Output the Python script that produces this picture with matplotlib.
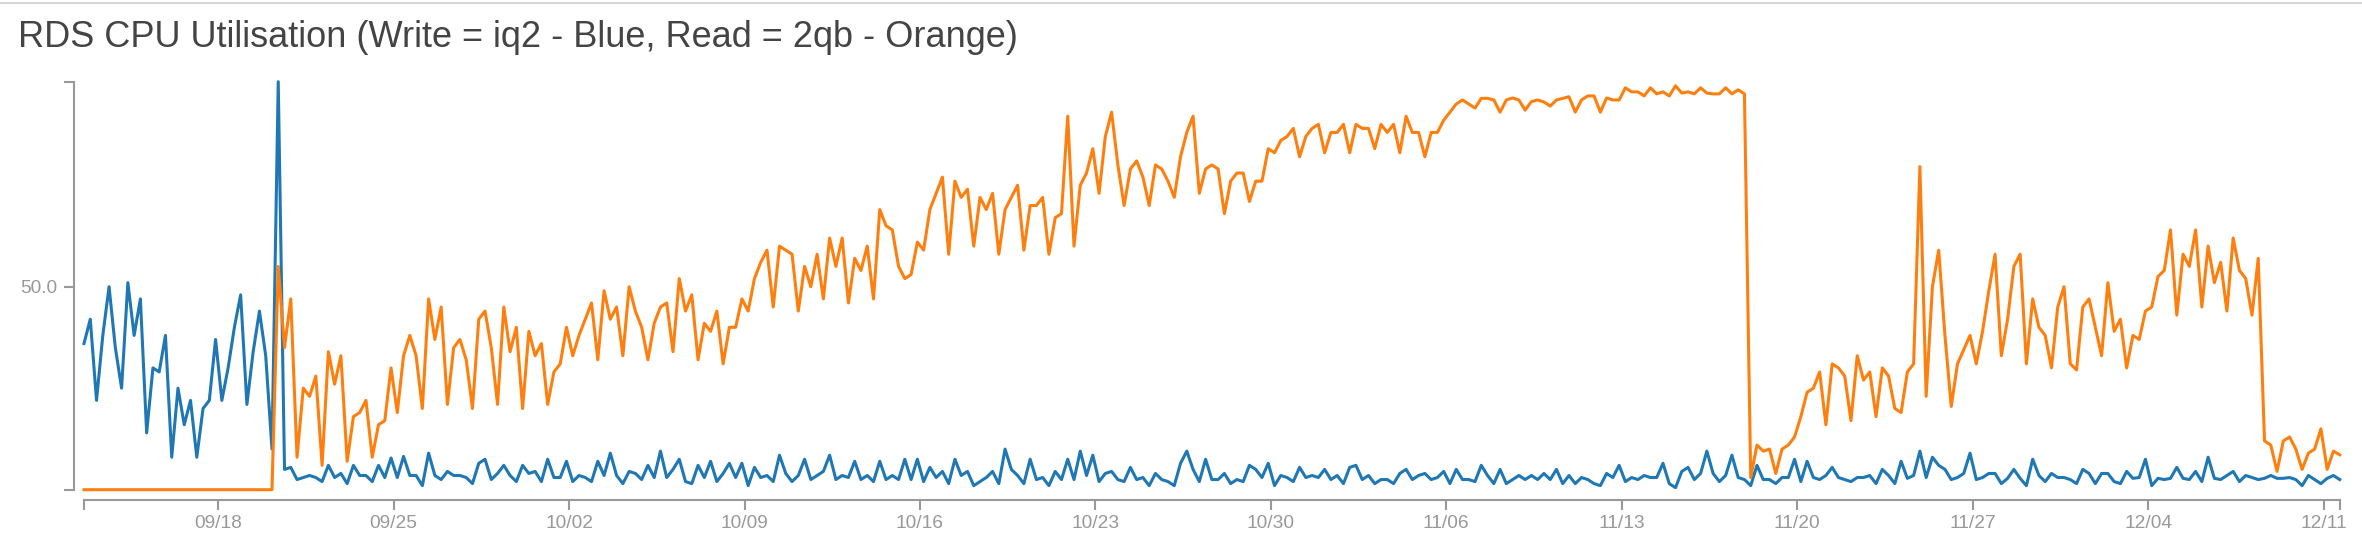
import matplotlib
matplotlib.use('Agg')
import matplotlib.pyplot as plt
from matplotlib.lines import Line2D
import pandas as pd

# samples every 6 hours from the first data point
start = '2016-09-12 15:30'
step = '6h'

write_cpu = [
    36, 42, 22, 38, 50, 35, 25, 51, 38, 47,
    14, 30, 29, 38, 8, 25, 16, 22, 8, 20,
    22, 37, 22, 30, 40, 48, 21, 34, 44, 33,
    10, 100.5, 5, 5.5, 2.5, 3, 3.5, 3, 2, 6,
    3, 4, 1.5, 6, 3.5, 3.5, 2, 6, 3, 7.8,
    3, 8.2, 3.5, 3.5, 1, 9, 3.5, 2.5, 4.5, 3.5,
    3.5, 3, 1.5, 6.5, 7.5, 2.5, 4, 6, 3.5, 2,
    6, 4, 4.5, 2, 7.5, 3, 3, 7, 2, 3.5,
    3, 2, 7, 3.5, 9, 3.5, 1.5, 4.5, 4, 2.5,
    6, 3, 9.5, 3, 5, 7.5, 2, 1.5, 6, 3,
    7, 2, 4, 6.5, 3, 6.5, 1, 5.5, 3, 3.5,
    2, 8.5, 4, 2, 3.5, 7.5, 2.5, 3.5, 4.5, 8.5,
    2.5, 3.5, 3, 7, 2.5, 3.5, 2, 7, 2.5, 3.5,
    2.5, 7.5, 2.5, 7.5, 2, 5.5, 3, 4.5, 1.5, 7.5,
    3.5, 4.5, 1, 2, 3, 4.5, 1.5, 10, 5, 3.5,
    1.5, 7.5, 2.5, 3, 1, 4.5, 2.5, 7.5, 2.5, 9.5,
    3.5, 8.5, 2, 4, 4.5, 2.5, 2, 5.5, 2.5, 3,
    1, 4, 2.5, 2, 1, 6.5, 9.5, 5, 2, 7.5,
    2.5, 2.5, 4, 1.5, 2.5, 2, 6, 5, 3, 6.5,
    1, 3.5, 3, 2, 5.5, 3, 3.5, 3, 5, 2.5,
    3.5, 1.5, 5.5, 6, 2.5, 3.5, 1.5, 2.5, 2.5, 1.5,
    4, 5, 2.5, 3.5, 4, 2.5, 3, 4.5, 1.5, 5,
    2.5, 2.5, 2, 6, 3.5, 1.5, 5, 1.5, 2.5, 3.5,
    2.5, 3.5, 2.5, 4, 2.5, 5, 1.5, 3.5, 1.5, 3,
    2.5, 1.5, 1, 4, 3, 6, 2, 3, 2.5, 3.5,
    3, 3, 6.5, 1.5, 0.5, 4.5, 5.5, 2.5, 4, 9.5,
    4, 2, 3.5, 8.5, 3, 2.5, 1, 6, 2.5, 2.5,
    1.5, 3, 3, 7.5, 2, 7, 3, 2.5, 3.5, 5.5,
    3, 2.5, 2, 3, 3, 3.5, 1.5, 5, 3.5, 1.5,
    7, 2.8, 3.5, 9.5, 3, 8, 6, 5, 2.5, 3,
    4, 9, 2.5, 3, 4, 4, 1.5, 2.8, 5, 2.8,
    1, 7.5, 3.5, 2, 4, 3, 3, 2.5, 1.5, 5,
    4, 1.5, 4, 4, 2, 1.5, 4.5, 2.8, 3, 7.5,
    1, 2.8, 2.5, 2.8, 5.5, 2.8, 2.5, 4.5, 2, 8,
    2.8, 2.5, 3.5, 4.5, 2, 3.5, 3, 2.5, 2.8, 3.5,
    2.8, 2.8, 3, 2.5, 1, 3.5, 2.5, 1.5, 2.8, 3.5,
    2.5,
]

read_cpu = [
    0, 0, 0, 0, 0, 0, 0, 0, 0, 0,
    0, 0, 0, 0, 0, 0, 0, 0, 0, 0,
    0, 0, 0, 0, 0, 0, 0, 0, 0, 0,
    0, 55, 35, 47, 8, 25, 23, 28, 6, 34,
    26, 33, 7, 18, 19, 22, 8, 16, 17, 30,
    19, 33, 38, 33, 20, 47, 37, 45, 21, 35,
    37, 32, 20, 42, 44, 35, 21, 45, 34, 40,
    20, 39, 33, 36, 21, 29, 31, 40, 33, 38,
    42, 46, 32, 49, 42, 45, 33, 50, 44, 40,
    32, 41, 45, 46, 34, 52, 44, 48, 32, 41,
    39, 44, 31, 40, 40, 47, 44, 52, 56, 59,
    45, 60, 59, 58, 44, 55, 50, 58, 47, 62,
    55, 62, 46, 57, 54, 60, 47, 69, 65, 64,
    55, 52, 53, 61, 59, 69, 73, 77, 58, 76,
    72, 74, 60, 72, 69, 73, 58, 69, 72, 75,
    59, 70, 70, 72, 58, 67, 68, 92, 60, 75,
    78, 84, 73, 87, 93, 80, 70, 79, 81, 77,
    70, 80, 79, 76, 72, 82, 88, 92, 73, 79,
    80, 79, 68, 76, 78, 78, 71, 76, 76, 84,
    83, 86, 87, 89, 82, 87, 89, 90, 83, 88,
    88, 90, 83, 90, 89, 89, 84, 90, 88, 90,
    83, 92, 88, 88, 82, 88, 88, 91, 93, 95,
    96, 95, 94, 96.4, 96.4, 96, 93, 96, 96.5, 96,
    93.5, 95.6, 96, 95.5, 94.5, 96, 96.4, 96.8, 93, 96,
    97, 97, 93, 96.5, 96, 96, 99, 98, 98, 97,
    99, 97.5, 98, 97, 99.5, 97.7, 98, 97.5, 99, 97.7,
    97.5, 97.5, 99, 97.5, 98.5, 97.5, 3, 11, 9.5, 10,
    4, 10, 11, 13, 18, 24, 25, 29, 16, 31,
    30, 28, 17, 33, 27, 29, 18, 30, 28, 20,
    19, 29, 31, 79.6, 23, 50, 59, 38, 20.5, 31,
    34.5, 38, 31, 39, 49, 58, 33, 42, 55, 58,
    31, 47, 40, 38, 30, 45, 50, 31, 29.5, 45,
    47, 40, 33, 51, 39, 42, 30, 38, 37, 44,
    45, 52.5, 54, 64, 43, 58, 55, 64, 45, 60,
    51, 56, 44, 62, 54, 52, 43, 57, 12, 11,
    4.5, 12, 13, 10, 5, 9, 10, 15, 5, 9.5,
    8.6,
]

week_ticks = ['2016-09-18', '2016-09-25', '2016-10-02', '2016-10-09',
              '2016-10-16', '2016-10-23', '2016-10-30', '2016-11-06',
              '2016-11-13', '2016-11-20', '2016-11-27', '2016-12-04',
              '2016-12-11']

title = 'RDS CPU Utilisation (Write = iq2 - Blue, Read = 2qb - Orange)'

W, H = 2362, 544
axis_grey = '#999999'
plt.rcParams['font.family'] = ['Liberation Sans', 'DejaVu Sans']

write_t = pd.date_range(start, periods=len(write_cpu), freq=step)
read_t = pd.date_range(start, periods=len(read_cpu), freq=step)

fig = plt.figure(figsize=(W / 100, H / 100), dpi=100)
ax = fig.add_axes([84 / W, 1 - 489.7 / H, (2339.7 - 84) / W, (489.7 - 81.7) / H])

ax.plot(write_t, write_cpu, color='#1f77b4', lw=2.2, clip_on=False)
ax.plot(read_t, read_cpu, color='#ff7f0e', lw=2.2, clip_on=False)

ymax = max(max(write_cpu), max(read_cpu))
ax.set_xlim(write_t[0], write_t[-1])
ax.set_ylim(0, ymax)

for side in ['top', 'right']:
    ax.spines[side].set_visible(False)
for side in ['left', 'bottom']:
    ax.spines[side].set_position(('outward', 7.5))
    ax.spines[side].set_color(axis_grey)
    ax.spines[side].set_linewidth(1.5)

ax.set_yticks([0, 50, ymax])
ax.set_yticklabels(['', '50.0', ''])

xt = [write_t[0]] + list(pd.to_datetime(week_ticks)) + [write_t[-1]]
ax.set_xticks(xt)
ax.set_xticklabels([''] + [pd.Timestamp(d).strftime('%m/%d') for d in week_ticks] + [''])

ax.tick_params(axis='both', length=7.5, width=1.5, color=axis_grey,
               labelcolor=axis_grey, labelsize=13.8)
ax.tick_params(axis='y', pad=4)
ax.tick_params(axis='x', pad=3)

fig.text(18 / W, 1 - 47 / H, title, fontsize=26, color='#444444',
         ha='left', va='baseline')

fig.add_artist(Line2D([0, 1], [1 - 3 / H, 1 - 3 / H], transform=fig.transFigure,
                      color='#d6d6d6', lw=1.5))

fig.savefig('out.png', dpi=100)
